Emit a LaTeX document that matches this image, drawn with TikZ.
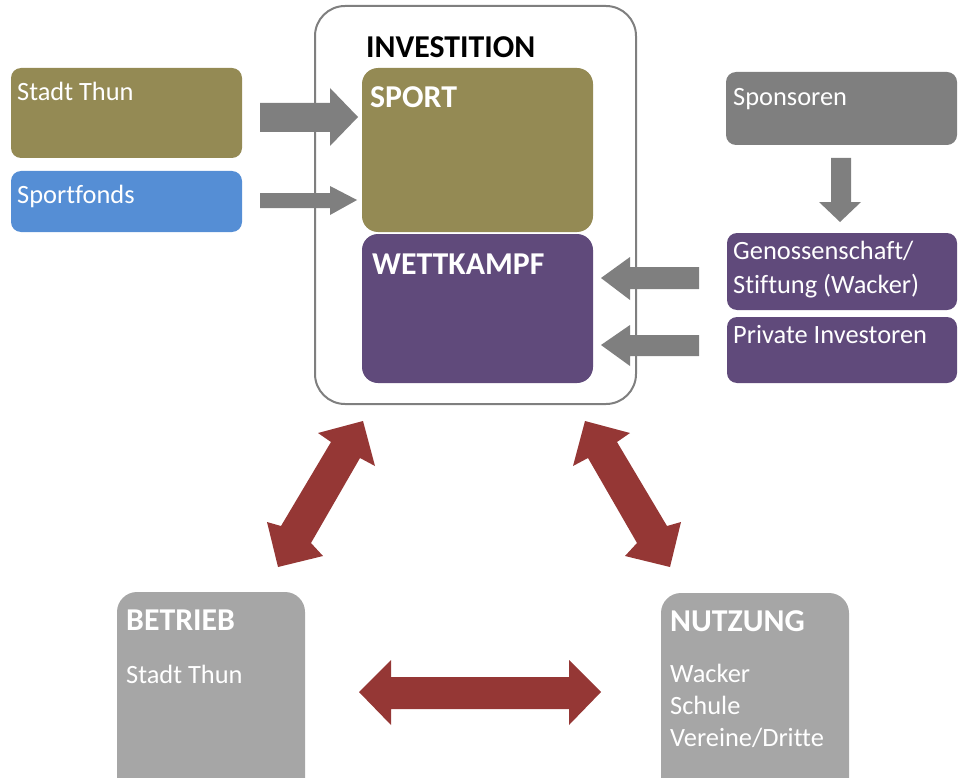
\documentclass[tikz,border=0pt]{standalone}
\usepackage{fontspec}
\setmainfont[Ligatures=NoCommon]{Carlito}
\definecolor{olive}{HTML}{948A54}
\definecolor{bluebx}{HTML}{558ED5}
\definecolor{purp}{HTML}{604A7B}
\definecolor{grayA}{HTML}{7F7F7F}
\definecolor{grayB}{HTML}{A6A6A6}
\definecolor{redA}{HTML}{953735}
\begin{document}
\begin{tikzpicture}[x=1pt,y=-1pt,
  box/.style={rounded corners=#1, draw=none},
  txt/.style={anchor=base west, inner sep=0pt, text=white, font=\fontsize{26.4}{34}\selectfont, align=left},
  head/.style={anchor=base west, inner sep=0pt, text=white, font=\fontsize{31.8}{36}\selectfont\bfseries},
  garrow/.style={fill=grayA, draw=none},
  rarrow/.style={fill=redA, draw=none}]
\useasboundingbox (0,0) rectangle (960,778);
\clip (0,0) rectangle (960,778);
% container
\draw[grayA, line width=2pt, fill=white, rounded corners=30] (315,6) rectangle (636,404);
\node[anchor=base west, inner sep=0pt, font=\fontsize{31.8}{36}\selectfont\bfseries] (inv) at (366,58) {INVESTITION};
% left boxes
\fill[olive, rounded corners=10] (11,68) rectangle (242,158);
\node[txt] (stadt) at (17,101) {Stadt Thun};
\fill[bluebx, rounded corners=10] (11,171) rectangle (242,232);
\node[txt] (fonds) at (17,204) {Sportfonds};
% sport & wettkampf
\fill[olive, rounded corners=16] (362,68) rectangle (593,232);
\node[head] (sport) at (370,108) {SPORT};
\fill[purp, rounded corners=16] (362,234) rectangle (593,383);
\node[head] (wett) at (372,274) {WETTKAMPF};
% right boxes
\fill[grayA, rounded corners=10] (726,72) rectangle (957,145);
\node[txt] (spons) at (733,106) {Sponsoren};
\fill[purp, rounded corners=10] (727,233) rectangle (957,310);
\node[txt] (gen) at (733,259) {Genossenschaft/};
\node[txt] (stif) at (733,293) {Stiftung (Wacker)};
\fill[purp, rounded corners=10] (727,317) rectangle (957,383);
\node[txt] (priv) at (733,343) {Private Investoren};
% bottom boxes
\fill[grayB, rounded corners=20] (117,592) rectangle (305,820);
\node[head] (betr) at (126,630) {BETRIEB};
\node[txt] (st2) at (126,683) {Stadt Thun};
\fill[grayB, rounded corners=20] (661,593) rectangle (849,820);
\node[head] (nutz) at (670,631) {NUTZUNG};
\node[txt] (wk) at (670,682) {Wacker};
\node[txt] (sch) at (670,714) {Schule};
\node[txt] (ver) at (670,746) {Vereine/Dritte};
% gray arrows
\fill[garrow] (260,103) -- (330,103) -- (330,88) -- (358,117) -- (330,146) -- (330,132) -- (260,132) -- cycle;
\fill[garrow] (260,193) -- (330,193) -- (330,186) -- (357,200) -- (330,215) -- (330,208) -- (260,208) -- cycle;
\fill[garrow] (831,158) -- (851,158) -- (851,202) -- (861,202) -- (840,222) -- (819,202) -- (831,202) -- cycle;
\fill[garrow] (699,267) -- (630,267) -- (630,257) -- (601,278) -- (630,300) -- (630,289) -- (699,289) -- cycle;
\fill[garrow] (699,335) -- (630,335) -- (630,325) -- (601,345) -- (630,366) -- (630,356) -- (699,356) -- cycle;
% red arrows
\fill[rarrow] (363,421) -- (375,466) -- (360,458) -- (311,543) -- (323,556) -- (278,567) -- (267,522) -- (281,526) -- (331,442) -- (318,433) -- cycle;
\fill[rarrow] (585,421) -- (573,466) -- (588,458) -- (637,543) -- (625,556) -- (670,567) -- (681,522) -- (667,526) -- (617,442) -- (630,433) -- cycle;
\fill[rarrow] (359,692) -- (391,660) -- (391,677) -- (569,677) -- (569,660) -- (601,692) -- (569,725) -- (569,709) -- (391,709) -- (391,725) -- cycle;
\end{tikzpicture}
\end{document}
